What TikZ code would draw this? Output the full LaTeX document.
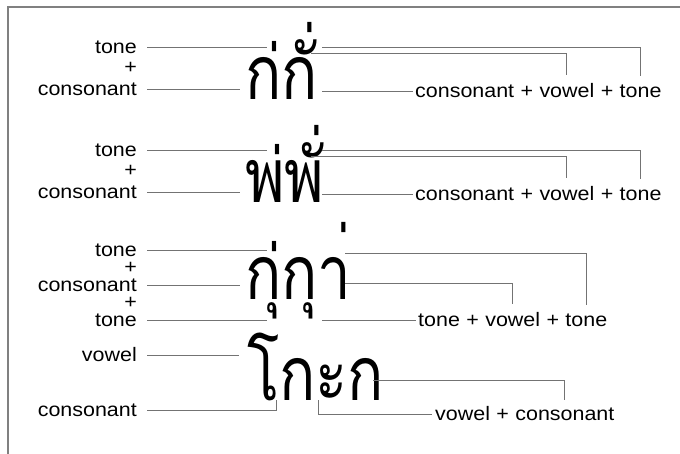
\documentclass[tikz,border=0pt]{standalone}
\usepackage{fontspec}
\setmainfont[FakeStretch=1.1]{Liberation Sans}
\newfontfamily\thaifont[Script=Thai, FakeStretch=0.8]{Loma}
\usetikzlibrary{positioning}

\begin{document}
\begin{tikzpicture}[x=1pt, y=-1pt,
    every node/.style={font=\fontsize{19.5}{22}\selectfont, inner sep=0pt},
    leftlbl/.style={anchor=east},
    thai/.style={font=\thaifont\fontsize{75}{75}\selectfont, anchor=base west},
    lead/.style={draw=black!55, line width=0.9pt}]
  \useasboundingbox (0,0) rectangle (680,454);
  \draw[black!50, line width=1.2pt] (680,7) -- (8,7) -- (8,454);

  % tone + consonant, two rows
  \foreach \i/\y/\txt in {1/0/ก่กั่, 2/103/พ่พั่} {
    \node[thai] (g\i) at (245,100+\y) {\txt};
    \node[leftlbl] (tone\i) at (137,47+\y) {tone};
    \node[leftlbl] (plus\i) at (137,68+\y) {+};
    \node[leftlbl] (cons\i) at (137,89+\y) {consonant};
    \node[anchor=west] (rc\i) at (415,91+\y) {consonant};
    \node[base right=6pt of rc\i] (rp\i) {+};
    \node[base right=6pt of rp\i] (rv\i) {vowel};
    \node[base right=6pt of rv\i] (rq\i) {+};
    \node[base right=6pt of rq\i] (rt\i) {tone};
    \draw[lead, shorten <=10pt] (tone\i.east) -- (267,47+\y);
    \draw[lead, shorten <=10pt] (cons\i.east) -- (240,89+\y);
    \draw[lead, shorten >=8pt] (322,47+\y) -| (rt\i.north);
    \draw[lead, shorten >=8pt] (311,53+\y) -| (rv\i.north);
    \draw[lead, shorten >=2pt] (322,91+\y) -- (rc\i.west);
  }

  % tone + consonant + tone
  \node[thai] (g3) at (245,300) {กุ่กุา่};
  \node[leftlbl] (tone3) at (137,250) {tone};
  \node[leftlbl] (plus3) at (137,267.5) {+};
  \node[leftlbl] (cons3) at (137,285) {consonant};
  \node[leftlbl] (plus3b) at (137,302.5) {+};
  \node[leftlbl] (tone3b) at (137,320) {tone};
  \node[anchor=west] (rt3) at (418,320) {tone};
  \node[base right=6pt of rt3] (rp3) {+};
  \node[base right=6pt of rp3] (rv3) {vowel};
  \node[base right=6pt of rv3] (rq3) {+};
  \node[base right=6pt of rq3] (rt3b) {tone};
  \draw[lead, shorten <=10pt] (tone3.east) -- (267,250);
  \draw[lead, shorten <=10pt] (cons3.east) -- (240,285);
  \draw[lead, shorten <=10pt] (tone3b.east) -- (267,320);
  \draw[lead, shorten >=8pt] (345,253) -| (rt3b.north);
  \draw[lead, shorten >=8pt] (345,283) -| (rv3.north);
  \draw[lead, shorten >=2pt] (322,320) -- (rt3.west);

  % vowel + consonant
  \node[thai] (g4) at (247,400) {โกะก};
  \node[leftlbl] (vow4) at (137,355) {vowel};
  \node[leftlbl] (cons4) at (137,410) {consonant};
  \node[anchor=west] (rv4) at (435,414) {vowel};
  \node[base right=6pt of rv4] (rp4) {+};
  \node[base right=6pt of rp4] (rc4) {consonant};
  \draw[lead, shorten <=10pt] (vow4.east) -- (239,355);
  \draw[lead, shorten <=10pt] (cons4.east) -| (276,400);
  \draw[lead, shorten >=8pt] (373,380) -| (rc4.north);
  \draw[lead, shorten >=3pt] (318,400) |- (rv4.west);
\end{tikzpicture}
\end{document}
